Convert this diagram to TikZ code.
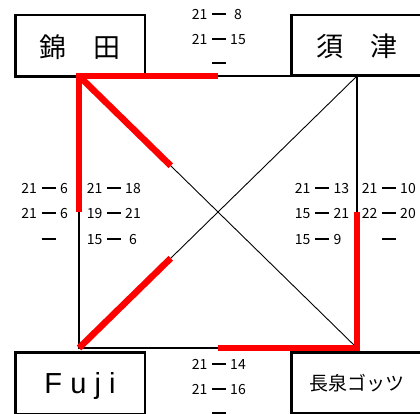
\documentclass[tikz,border=0pt]{standalone}
\usepackage{xcolor}
\usepackage{fontspec}
\setmainfont{Noto Sans CJK JP}
\newfontfamily\latinfont[LetterSpace=28]{Liberation Sans}
\usepackage{tikz}
\usetikzlibrary{calc}
\definecolor{WinRed}{RGB}{255,0,0}
\newcommand{\score}[3][c]{\makebox[15pt][r]{#2}\hspace{4.5pt}\rule[3.8pt]{14pt}{2.8pt}\hspace{4.5pt}\makebox[15pt][#1]{#3}}

\begin{document}
\begin{tikzpicture}[x=1pt,y=-1pt,
    stn/.style={draw=black,line width=2.5pt,fill=white,inner sep=0pt,text depth=0pt},
    score/.style={anchor=base,inner sep=0pt,font=\fontsize{14}{16}\selectfont},
    court/.style={black,line width=2pt},
    cross/.style={black,line width=0.9pt},
    win/.style={WinRed,line width=6.5pt}]
  \useasboundingbox (0,0) rectangle (420,414);
  % corners of the court
  \coordinate (nw) at (79,76);
  \coordinate (ne) at (357,76);
  \coordinate (se) at (357,348);
  \coordinate (sw) at (79,348);
  \draw[court] (nw) -- (ne) -- (se) -- (sw) -- cycle;
  \draw[cross] (nw) -- (se);
  \draw[cross] (sw) -- (ne);
  % teams
  \node[stn,minimum width=129.5pt,minimum height=61.5pt,font=\fontsize{27}{30}\selectfont] (nishikida) at (80,46) {錦　田};
  \node[stn,minimum width=131.5pt,minimum height=60.5pt,font=\fontsize{27}{30}\selectfont] (suzu) at (357,45.5) {須　津};
  \node[stn,minimum width=129.5pt,minimum height=61.5pt,font=\fontsize{29}{32}\latinfont] (fuji) at (80,383) {Fuji};
  \node[stn,minimum width=131.5pt,minimum height=60.5pt,font=\fontsize{19}{22}\selectfont] (nagaizumi) at (357,382.5) {長泉ゴッツ};
  % wins
  \draw[win] ($(nw)!0.5!(ne)$) -- (nw) -- ($(nw)!0.5!(sw)$);
  \draw[win] (nw) -- ($(nw)!0.33!(se)$);
  \draw[win] (sw) -- ($(sw)!0.33!(ne)$);
  \draw[win] ($(ne)!0.5!(se)$) -- (se) -- ($(se)!0.5!(sw)$);
  % scores: top
  \node[score] (top1) at (219,19.2) {\score{21}{8}};
  \node[score] (top2) at (219,44.2) {\score{21}{15}};
  \node[score] (top3) at (219,68.2) {\score{}{}};
  % scores: left
  \node[score] (lefta1) at (48.5,193.2) {\score[l]{21}{6}};
  \node[score] (lefta2) at (48.5,218.2) {\score[l]{21}{6}};
  \node[score] (lefta3) at (48.5,244.2) {\score{}{}};
  \node[score] (leftb1) at (114,193.2) {\score{21}{18}};
  \node[score] (leftb2) at (114,218.2) {\score{19}{21}};
  \node[score] (leftb3) at (114,244.2) {\score{15}{6}};
  % scores: right
  \node[score] (righta1) at (322,193.2) {\score[l]{21}{13}};
  \node[score] (righta2) at (322,218.2) {\score[l]{15}{21}};
  \node[score] (righta3) at (322,244.2) {\score[l]{15}{9}};
  \node[score] (rightb1) at (389,193.2) {\score{21}{10}};
  \node[score] (rightb2) at (389,218.2) {\score{22}{20}};
  \node[score] (rightb3) at (389,244.2) {\score{}{}};
  % scores: bottom
  \node[score] (bot1) at (219,369.2) {\score{21}{14}};
  \node[score] (bot2) at (219,394.2) {\score{21}{16}};
  \node[score] (bot3) at (219,418.2) {\score{}{}};
\end{tikzpicture}
\end{document}
